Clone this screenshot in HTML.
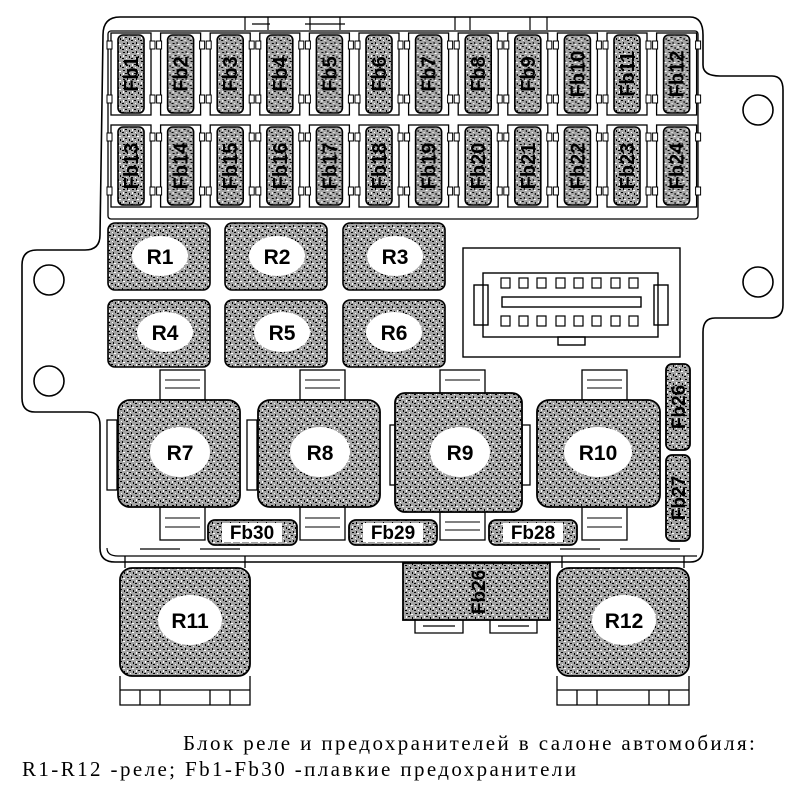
<!DOCTYPE html>
<html><head><meta charset="utf-8"><style>
html,body{margin:0;padding:0;background:#fff;width:803px;height:794px;overflow:hidden}
svg{position:absolute;left:0;top:0}
.cap{position:absolute;font-family:"Liberation Serif",serif;font-size:21px;letter-spacing:2.4px;color:#000;white-space:nowrap}
</style></head><body>
<svg width="803" height="794" viewBox="0 0 803 794" xmlns="http://www.w3.org/2000/svg">
<defs>
<pattern id="st" width="9" height="9" patternUnits="userSpaceOnUse">
<rect width="9" height="9" fill="#a4a4a4"/>
<rect x="1" y="1" width="2" height="1" fill="#000"/><rect x="5" y="0" width="1" height="2" fill="#000"/>
<rect x="3" y="4" width="2" height="1" fill="#000"/><rect x="7" y="5" width="1" height="2" fill="#000"/>
<rect x="0" y="7" width="2" height="1" fill="#000"/><rect x="4" y="7" width="1" height="1" fill="#fff"/>
<rect x="6" y="2" width="2" height="1" fill="#fff"/><rect x="1" y="4" width="1" height="2" fill="#fff"/>
</pattern>
<g id="fuse">
<rect x="-20" y="0" width="40" height="82" fill="#fff" stroke="#000" stroke-width="1.3"/>
<rect x="-24" y="8" width="5" height="8" fill="#fff" stroke="#000"/><rect x="19" y="8" width="5" height="8" fill="#fff" stroke="#000"/>
<rect x="-24" y="62" width="5" height="8" fill="#fff" stroke="#000"/><rect x="19" y="62" width="5" height="8" fill="#fff" stroke="#000"/>
<rect x="-13" y="2" width="26" height="78" rx="5" fill="url(#st)" stroke="#000" stroke-width="1.6"/>
</g>
</defs>
<g fill="none" stroke="#000" stroke-width="1.6">
<path d="M103 35 Q103 17 120 17 L690 17 Q703 17 703 35 L703 65 Q703 76 720 76 L772 76 Q783 76 783 90 L783 305 Q783 318 770 318 L715 318 Q703 318 703 332 L703 548 Q703 562 690 562 L115 562 Q100 562 100 548 L100 425 Q100 412 88 412 L35 412 Q22 412 22 398 L22 265 Q22 250 37 250 L85 250 Q100 250 100 235 Z" fill="#fff"/>
<path d="M107 548 Q107 556 118 556 L697 556" stroke-width="1.2"/>
<rect x="108" y="31" width="590" height="188" rx="3" stroke-width="1.3"/>
<circle cx="49" cy="280" r="15"/><circle cx="49" cy="381" r="15"/>
<circle cx="758" cy="110" r="15"/><circle cx="758" cy="282" r="15"/>
<path d="M245 30 L245 17 M268 30 L268 17 M252 24 L270 24 M310 30 L310 17 M340 30 L340 17 M305 24 L345 24" stroke-width="1.2"/>
<path d="M455 30 L455 17 M470 30 L470 17 M530 30 L530 17 M547 30 L547 17" stroke-width="1.2"/>
</g>
<g>
<use href="#fuse" x="131" y="33"/><use href="#fuse" x="180.6" y="33"/><use href="#fuse" x="230.2" y="33"/><use href="#fuse" x="279.8" y="33"/><use href="#fuse" x="329.4" y="33"/><use href="#fuse" x="379" y="33"/><use href="#fuse" x="428.6" y="33"/><use href="#fuse" x="478.2" y="33"/><use href="#fuse" x="527.8" y="33"/><use href="#fuse" x="577.4" y="33"/><use href="#fuse" x="627" y="33"/><use href="#fuse" x="676.6" y="33"/>
<use href="#fuse" x="131" y="125"/><use href="#fuse" x="180.6" y="125"/><use href="#fuse" x="230.2" y="125"/><use href="#fuse" x="279.8" y="125"/><use href="#fuse" x="329.4" y="125"/><use href="#fuse" x="379" y="125"/><use href="#fuse" x="428.6" y="125"/><use href="#fuse" x="478.2" y="125"/><use href="#fuse" x="527.8" y="125"/><use href="#fuse" x="577.4" y="125"/><use href="#fuse" x="627" y="125"/><use href="#fuse" x="676.6" y="125"/>
</g>
<g font-family="Liberation Sans,sans-serif" font-weight="bold" font-size="20" text-anchor="middle" fill="#000">
<text transform="translate(138,74) rotate(-90)">Fb1</text><text transform="translate(187.6,74) rotate(-90)">Fb2</text><text transform="translate(237.2,74) rotate(-90)">Fb3</text><text transform="translate(286.8,74) rotate(-90)">Fb4</text><text transform="translate(336.4,74) rotate(-90)">Fb5</text><text transform="translate(386,74) rotate(-90)">Fb6</text><text transform="translate(435.6,74) rotate(-90)">Fb7</text><text transform="translate(485.2,74) rotate(-90)">Fb8</text><text transform="translate(534.8,74) rotate(-90)">Fb9</text><text transform="translate(584.4,74) rotate(-90)">Fb10</text><text transform="translate(634,74) rotate(-90)">Fb11</text><text transform="translate(683.6,74) rotate(-90)">Fb12</text>
<text transform="translate(138,166) rotate(-90)">Fb13</text><text transform="translate(187.6,166) rotate(-90)">Fb14</text><text transform="translate(237.2,166) rotate(-90)">Fb15</text><text transform="translate(286.8,166) rotate(-90)">Fb16</text><text transform="translate(336.4,166) rotate(-90)">Fb17</text><text transform="translate(386,166) rotate(-90)">Fb18</text><text transform="translate(435.6,166) rotate(-90)">Fb19</text><text transform="translate(485.2,166) rotate(-90)">Fb20</text><text transform="translate(534.8,166) rotate(-90)">Fb21</text><text transform="translate(584.4,166) rotate(-90)">Fb22</text><text transform="translate(634,166) rotate(-90)">Fb23</text><text transform="translate(683.6,166) rotate(-90)">Fb24</text>
</g>
<g stroke="#000" stroke-width="1.6" fill="url(#st)">
<rect x="108" y="223" width="102" height="67" rx="7"/><rect x="225" y="223" width="102" height="67" rx="7"/><rect x="343" y="223" width="102" height="67" rx="7"/>
<rect x="108" y="300" width="102" height="67" rx="7"/><rect x="225" y="300" width="102" height="67" rx="7"/><rect x="343" y="300" width="102" height="67" rx="7"/>
</g>
<g fill="#fff">
<ellipse cx="160" cy="256" rx="28" ry="20"/><ellipse cx="277" cy="256" rx="28" ry="20"/><ellipse cx="395" cy="256" rx="28" ry="20"/>
<ellipse cx="165" cy="332" rx="28" ry="20"/><ellipse cx="282" cy="332" rx="28" ry="20"/><ellipse cx="394" cy="332" rx="28" ry="20"/>
</g>
<g font-family="Liberation Sans,sans-serif" font-weight="bold" font-size="21" text-anchor="middle">
<text x="160" y="264">R1</text><text x="277" y="264">R2</text><text x="395" y="264">R3</text>
<text x="165" y="340">R4</text><text x="282" y="340">R5</text><text x="394" y="340">R6</text>
</g>
<g fill="none" stroke="#000" stroke-width="1.4">
<rect x="463" y="248" width="217" height="109" fill="#fff"/>
<rect x="483" y="273" width="175" height="64"/>
<rect x="474" y="285" width="14" height="40"/><rect x="654" y="285" width="14" height="40"/>
<rect x="502" y="297" width="139" height="10"/>
<rect x="558" y="337" width="27" height="8"/>
<g stroke-width="1.2">
<rect x="501" y="278" width="9" height="10"/><rect x="519" y="278" width="9" height="10"/><rect x="537" y="278" width="9" height="10"/><rect x="556" y="278" width="9" height="10"/><rect x="574" y="278" width="9" height="10"/><rect x="592" y="278" width="9" height="10"/><rect x="611" y="278" width="9" height="10"/><rect x="629" y="278" width="9" height="10"/>
<rect x="501" y="316" width="9" height="10"/><rect x="519" y="316" width="9" height="10"/><rect x="537" y="316" width="9" height="10"/><rect x="556" y="316" width="9" height="10"/><rect x="574" y="316" width="9" height="10"/><rect x="592" y="316" width="9" height="10"/><rect x="611" y="316" width="9" height="10"/><rect x="629" y="316" width="9" height="10"/>
</g>
</g>
<g fill="#fff" stroke="#000" stroke-width="1.3">
<rect x="160" y="370" width="45" height="30"/><rect x="300" y="370" width="45" height="30"/><rect x="440" y="370" width="45" height="25"/><rect x="582" y="370" width="45" height="30"/>
<rect x="160" y="507" width="45" height="33"/><rect x="300" y="507" width="45" height="33"/><rect x="440" y="512" width="45" height="28"/><rect x="582" y="507" width="45" height="33"/>
<rect x="107" y="420" width="10" height="70"/><rect x="247" y="420" width="10" height="70"/><rect x="390" y="425" width="8" height="60"/><rect x="522" y="425" width="8" height="60"/>
</g>
<g stroke="#000" stroke-width="1" fill="none">
<path d="M165 380 H200 M165 388 H200 M305 380 H340 M305 388 H340 M445 380 H480 M587 380 H622 M587 388 H622 M165 518 H200 M165 527 H200 M305 518 H340 M305 527 H340 M445 522 H480 M445 530 H480 M587 518 H622 M587 527 H622"/>
</g>
<g stroke="#000" stroke-width="1.8" fill="url(#st)">
<rect x="118" y="400" width="122" height="107" rx="12"/>
<rect x="258" y="400" width="122" height="107" rx="12"/>
<rect x="395" y="393" width="127" height="119" rx="10"/>
<rect x="537" y="400" width="123" height="107" rx="12"/>
<rect x="208" y="520" width="89" height="25" rx="7"/><rect x="349" y="520" width="88" height="25" rx="7"/><rect x="489" y="520" width="88" height="25" rx="7"/>
<rect x="666" y="364" width="24" height="86" rx="6"/><rect x="666" y="455" width="24" height="86" rx="6"/>
<rect x="120" y="568" width="130" height="108" rx="12"/>
<rect x="557" y="568" width="132" height="108" rx="12"/>
<rect x="403" y="563" width="147" height="57"/>
</g>
<g fill="#fff">
<ellipse cx="180" cy="452" rx="30" ry="25"/><ellipse cx="320" cy="452" rx="30" ry="25"/><ellipse cx="460" cy="452" rx="30" ry="25"/><ellipse cx="598" cy="452" rx="34" ry="25"/>
<ellipse cx="190" cy="620" rx="32" ry="25"/><ellipse cx="624" cy="620" rx="32" ry="25"/>
<rect x="222" y="523" width="60" height="19"/><rect x="363" y="523" width="60" height="19"/><rect x="503" y="523" width="60" height="19"/>
</g>
<g stroke="#000" stroke-width="1.3" fill="none">
<path d="M120 676 V705 H250 V676 M140 690 V705 M160 690 V705 M210 690 V705 M230 690 V705 M120 690 H250"/>
<path d="M557 676 V705 H689 V676 M577 690 V705 M597 690 V705 M649 690 V705 M669 690 V705 M557 690 H689"/>
<path d="M415 620 V633 H463 V620 M490 620 V633 H537 V620 M423 626 H455 M498 626 H529"/>
<path d="M125 556 V568 M245 556 V568 M562 556 V568 M684 556 V568 M140 549 H180 M200 549 H240 M560 549 H600 M620 549 H680"/>
</g>
<g font-family="Liberation Sans,sans-serif" font-weight="bold" font-size="21" text-anchor="middle">
<text x="180" y="460">R7</text><text x="320" y="460">R8</text><text x="460" y="460">R9</text><text x="598" y="460">R10</text>
<text x="190" y="628">R11</text><text x="624" y="628">R12</text>
</g>
<g font-family="Liberation Sans,sans-serif" font-weight="bold" font-size="19" text-anchor="middle">
<text x="252" y="539">Fb30</text><text x="393" y="539">Fb29</text><text x="533" y="539">Fb28</text>
<text transform="translate(685,407) rotate(-90)">Fb26</text><text transform="translate(685,498) rotate(-90)">Fb27</text>
<text transform="translate(485,592) rotate(-90)">Fb26</text>
</g>
</svg>
<div class="cap" style="left:183px;top:731px">Блок реле и предохранителей в салоне автомобиля:</div>
<div class="cap" style="left:22px;top:757px">R1-R12 -реле; Fb1-Fb30 -плавкие предохранители</div>
</body></html>
